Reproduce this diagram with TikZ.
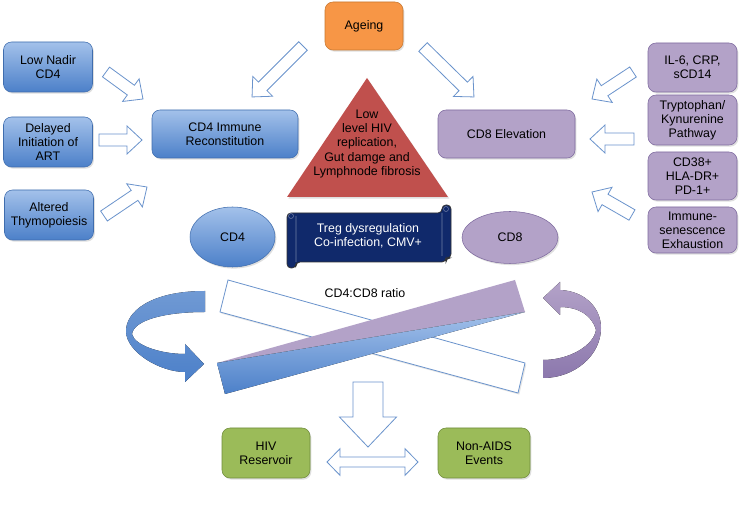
\documentclass[tikz,border=0pt]{standalone}
\usepackage{fontspec}
\setmainfont{Liberation Sans}
\usepackage{tikz}
\usetikzlibrary{calc,shapes.geometric,shadows}
\definecolor{bluetop}{HTML}{A3C1EA}
\definecolor{bluebot}{HTML}{4C80C9}
\definecolor{bluex}{HTML}{3F6DAE}
\definecolor{lilacx}{HTML}{B3A2C8}
\definecolor{lilacdk}{HTML}{8C78AD}
\definecolor{lilacln}{HTML}{7E6A9F}
\definecolor{orangex}{HTML}{F79646}
\definecolor{orangeln}{HTML}{C8772F}
\definecolor{greenx}{HTML}{9BBB59}
\definecolor{greenln}{HTML}{6F8C3B}
\definecolor{redx}{HTML}{C0504D}
\definecolor{navyx}{HTML}{10296B}
\definecolor{arrln}{HTML}{6A93CC}
\newcommand{\txt}{\fontsize{9.3}{10.6}\selectfont}
\tikzset{
  box/.style={rounded corners=6pt,align=center,inner sep=1pt,font=\txt,
    drop shadow={shadow xshift=1pt,shadow yshift=-1.2pt,opacity=0.25}},
  bbox/.style={box,draw=bluex,top color=bluetop,bottom color=bluebot},
  pbox/.style={box,draw=lilacln,fill=lilacx},
  obox/.style={box,draw=orangeln,fill=orangex},
  gbox/.style={box,draw=greenln,fill=greenx},
  oval/.style={ellipse,inner sep=0pt,font=\txt,
    drop shadow={shadow xshift=1pt,shadow yshift=-1.2pt,opacity=0.25}},
  hol/.style={draw=arrln,fill=white,line width=0.6pt,line join=miter},
  lbl/.style={font=\txt,align=center,inner sep=1pt}
}
% hollow block arrow: from, to, shaft half width, head half width, head length
\newcommand{\fatarr}[5]{%
  \draw[hol] let \p1=($(#2)-(#1)$), \n1={veclen(\x1,\y1)}, \n2={atan2(\y1,\x1)} in
    [shift={(#1)},rotate=\n2]
    (0pt,-#3) -- ({\n1-#5},-#3) -- ({\n1-#5},-#4) -- ({\n1+0pt},0pt)
    -- ({\n1-#5},#4) -- ({\n1-#5},#3) -- (0pt,#3) -- cycle;}
\newcommand{\dblarr}[5]{%
  \draw[hol] let \p1=($(#2)-(#1)$), \n1={veclen(\x1,\y1)}, \n2={atan2(\y1,\x1)} in
    [shift={(#1)},rotate=\n2]
    (0pt,0pt) -- (#5,#4) -- (#5,#3) -- ({\n1-#5},#3) -- ({\n1-#5},#4) -- ({\n1+0pt},0pt)
    -- ({\n1-#5},-#4) -- ({\n1-#5},-#3) -- (#5,-#3) -- (#5,-#4) -- cycle;}

\begin{document}
\begin{tikzpicture}[x=0.75pt,y=-0.75pt]
\fill[white] (0,0) rectangle (740,505);
\useasboundingbox (0,0) rectangle (740,505);

% boxes
\node[bbox,minimum width=66.75pt,minimum height=37.5pt] (nadir) at (48,67) {Low Nadir\\CD4};
\node[bbox,minimum width=66.75pt,minimum height=37.5pt] (delayed) at (48,142) {Delayed\\Initiation of\\ART};
\node[bbox,minimum width=66.75pt,minimum height=37.5pt] (thymo) at (49,215) {Altered\\Thymopoiesis};
\node[bbox,minimum width=109.5pt,minimum height=36pt] (cd4rec) at (225,134) {CD4 Immune\\Reconstitution};
\node[obox,minimum width=58.5pt,minimum height=36pt] (ageing) at (364,26) {Ageing};
\node[pbox,minimum width=102.75pt,minimum height=36pt] (cd8el) at (506.5,134) {CD8 Elevation};
\node[pbox,minimum width=66.75pt,minimum height=36.75pt] (il6) at (692.5,67.5) {IL-6, CRP,\\sCD14};
\node[pbox,minimum width=66.75pt,minimum height=37.5pt] (trypt) at (692.5,120) {Tryptophan/\\Kynurenine\\Pathway};
\node[pbox,minimum width=66.75pt,minimum height=36pt] (cd38) at (692.5,176) {CD38+\\HLA-DR+\\PD-1+};
\node[pbox,minimum width=66.75pt,minimum height=34.5pt] (immsen) at (692.5,230) {Immune-\\senescence\\Exhaustion};
\node[gbox,minimum width=66pt,minimum height=37.5pt] (hivres) at (266,453) {HIV\\Reservoir};
\node[gbox,minimum width=69pt,minimum height=37.5pt] (nonaids) at (484,453) {Non-AIDS\\Events};

% triangle
\coordinate (tA) at (367,78);
\coordinate (tB) at (287,197);
\coordinate (tC) at (448,197);
\fill[redx,drop shadow={shadow xshift=1pt,shadow yshift=-1.2pt,opacity=0.25}] (tA) -- (tC) -- (tB) -- cycle;
\node[lbl] (lowlvl) at (367,144) {Low\\level HIV\\replication,\\Gut damge and\\Lymphnode fibrosis};

% scroll banner
\filldraw[navyx,draw=black!80,rounded corners=3pt,line width=0.6pt]
  (287,268) -- (287,213) -- (442,213) -- (442,205) -- (451,205) -- (451,258)
  -- (446,258) -- (446,262) -- (296,262) -- (296,268) -- cycle;
\draw[navyx!60!white,line width=0.4pt] (296,262) -- (296,216) (291,216) circle (2.5) (442,213) -- (442,256) (446,209) circle (2.5);
\node[lbl,text=white] (treg) at (368,236) {Treg dysregulation\\Co-infection, CMV+};

% ellipses
\node[oval,draw=bluex,top color=bluetop,bottom color=bluebot,minimum width=63.75pt,minimum height=45pt] (cd4) at (232.5,237) {CD4};
\node[oval,draw=lilacln,fill=lilacx,minimum width=72pt,minimum height=39pt] (cd8) at (510,237.5) {CD8};

% hollow arrows
\coordinate (nadir-o) at (106,72);   \coordinate (nadir-i) at (143,99);
\coordinate (delay-o) at (99,140);   \coordinate (delay-i) at (142,140);
\coordinate (thymo-o) at (104,216);  \coordinate (thymo-i) at (147,187);
\coordinate (age-l) at (303,46);     \coordinate (rec-i) at (252,97);
\coordinate (age-r) at (423,47);     \coordinate (el-i) at (474,97);
\coordinate (il6-o) at (633,72);     \coordinate (il6-i) at (592,99);
\coordinate (tryp-o) at (634,139);   \coordinate (tryp-i) at (590,139);
\coordinate (cd38-o) at (632,215);   \coordinate (cd38-i) at (592,192);
\coordinate (dn-o) at (368,382);     \coordinate (dn-i) at (368,447);
\coordinate (res-r) at (327,462);    \coordinate (aids-l) at (418,462);
\fatarr{nadir-o}{nadir-i}{4.5pt}{10.5pt}{11.25pt}
\fatarr{delay-o}{delay-i}{4.5pt}{10.5pt}{11.25pt}
\fatarr{thymo-o}{thymo-i}{4.5pt}{10.5pt}{11.25pt}
\fatarr{age-l}{rec-i}{4.5pt}{10.5pt}{11.25pt}
\fatarr{age-r}{el-i}{4.5pt}{10.5pt}{11.25pt}
\fatarr{il6-o}{il6-i}{4.5pt}{10.5pt}{11.25pt}
\fatarr{tryp-o}{tryp-i}{4.5pt}{10.5pt}{11.25pt}
\fatarr{cd38-o}{cd38-i}{4.5pt}{10.5pt}{11.25pt}
\fatarr{dn-o}{dn-i}{11.25pt}{21.4pt}{22.5pt}
\dblarr{res-r}{aids-l}{3.75pt}{10pt}{9.75pt}

% ratio bars
\node[lbl] (ratio) at (365,293) {CD4:CD8 ratio};
\draw[hol,drop shadow={shadow xshift=1pt,shadow yshift=-1.2pt,opacity=0.2}]
  (228,280) -- (525,363) -- (518,393) -- (220,312) -- cycle;
\fill[lilacx] (217,363) -- (515,280) -- (525,312) -- cycle;
\fill[top color=bluetop,bottom color=bluebot] (217,363) -- (525,312) -- (225,394) -- cycle;

% curved arrows
\fill[top color=bluebot!80!white,bottom color=bluebot]
  (205,291) .. controls (150,291) and (126,312) .. (126,331)
  .. controls (126,352) and (160,372) .. (185,372)
  -- (185,382) -- (204,364) -- (185,344) -- (185,354)
  .. controls (160,354) and (134,345) .. (132,334)
  .. controls (134,320) and (165,312) .. (205,312) -- cycle;
\fill[top color=lilacx,bottom color=lilacdk]
  (560,290) .. controls (585,291) and (601,308) .. (601,328)
  .. controls (601,355) and (575,378) .. (543,378)
  -- (543,360)
  .. controls (570,360) and (594,345) .. (596,330)
  .. controls (592,315) and (578,307) .. (560,307)
  -- (560,315) -- (543,298) -- (560,282) -- cycle;
\end{tikzpicture}
\end{document}
